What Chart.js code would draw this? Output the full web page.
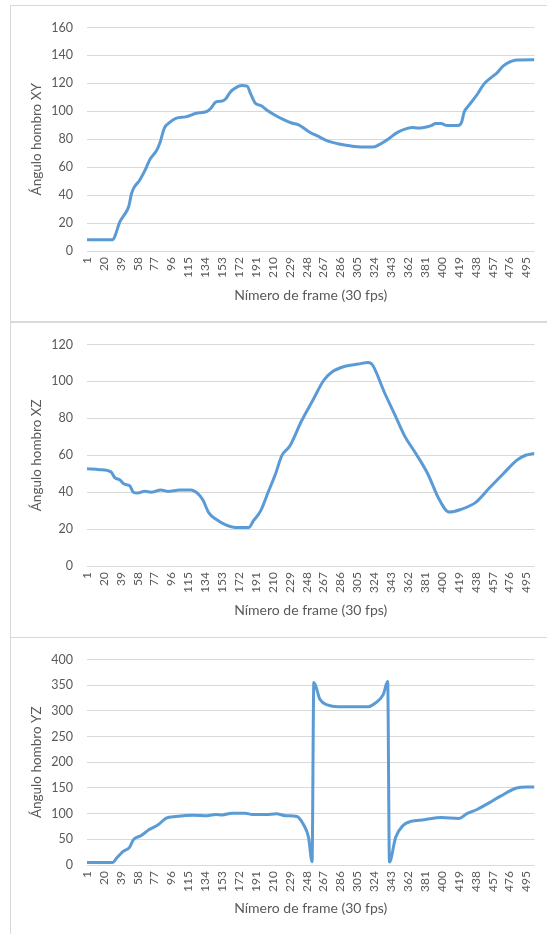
<!DOCTYPE html>
<html>
<head>
<meta charset="utf-8">
<script src="https://cdn.jsdelivr.net/npm/chart.js@4.4.1/dist/chart.umd.min.js"></script>
<style>
html,body{margin:0;padding:0;background:#fff;width:547px;height:934px;overflow:hidden}
.panel{position:absolute;left:10px;width:580px;border:1px solid #d9d9d9;background:#fff;box-sizing:border-box}
.panel canvas{position:absolute;left:0;top:0}
</style>
</head>
<body>
<div class="panel" style="top:5px;height:317px"><canvas id="c1" width="536" height="315" style="width:536px;height:315px"></canvas></div>
<div class="panel" style="top:322px;height:316px"><canvas id="c2" width="536" height="314" style="width:536px;height:314px"></canvas></div>
<div class="panel" style="top:637px;height:310px"><canvas id="c3" width="536" height="296" style="width:536px;height:296px"></canvas></div>
<script>
// Tick labels on the frame axis
const frameTicks = [1,20,39,58,77,96,115,134,153,172,191,210,229,248,267,286,305,324,343,362,381,400,419,438,457,476,495];
const lastFrame = 504;

// Ángulo hombro XY
const xyFrames = [1,30,32,38,42,48,51,54,60,66,72,79,83,88,94,101,112,123,136,140,146,153,157,162,168,175,181,185,190,197,203,213,222,231,239,250,261,272,283,298,309,322,330,339,350,362,367,373,388,393,399,406,418,422,425,430,440,447,455,462,469,477,484,504];
const xyValues = [8,8,10,21,25,32,41,45.6,50.5,57.5,65.8,71.7,77.5,88,92,95,96,98.4,100,102,106.7,107.4,109,113.7,116.8,118.4,118,112.5,106,104,101,97,94,91.6,90.3,85.6,82,78.6,76.8,75.1,74.4,74.4,76.3,79.8,84.9,88,88.5,88,89.8,91.2,91.2,89.8,89.8,92,99.5,104,112.4,119.3,124,127.5,132.6,135.6,136.8,137];

// Ángulo hombro XZ
const xzFrames = [1,15,28,32,38,43,49,53,58,66,73,84,92,105,118,125,131,138,146,157,168,183,188,196,205,213,220,229,242,255,267,276,291,306,317,322,335,347,358,371,384,397,408,421,438,453,469,484,494,504];
const xzValues = [52.7,52.2,51,48,46.6,44.3,43.5,40,39.5,40.5,40,41.2,40.4,41.2,41.2,39.5,36,28.8,25.3,22.3,20.9,20.9,24.4,29.7,40.4,50,59.8,65,78.4,89.9,100.5,105,108.2,109.4,110.3,108.9,94.4,82,70.5,60.7,50,36,29.2,30.6,34.5,42.1,50,57.2,60,61];

// Ángulo hombro YZ
const yzFrames = [1,30,34,41,49,53,62,71,81,90,101,120,136,146,153,164,179,187,202,214,224,237,244,250,254,256,263,272,283,317,324,334,339,341,348,356,365,380,399,419,428,440,453,466,484,495,504];
const yzValues = [5,5,12.7,25.5,35,49,57.4,68.9,78.4,91.2,94.4,97,96,98.3,97.5,100.8,100.8,98.3,98.3,99.6,96,94.4,79.7,54.2,6.4,355,322,311,308,308,314,331.6,357,6,54.2,76.5,84.8,88,92.4,90.5,100,108.5,121,134,149.8,152,152];

const FONT = "Lato, 'Open Sans', sans-serif";
const TXT = '#595959';
const GRID = '#d9d9d9';
const LINE = '#5B9BD5';

function makeChart(id, frames, values, yMax, yStep, yTitle, areaTop, axisHeight, titlePadBottom) {
  const pts = frames.map((f, i) => ({x: f, y: values[i]}));
  return new Chart(document.getElementById(id), {
    type: 'line',
    data: {datasets: [{data: pts, borderColor: LINE, borderWidth: 3, pointRadius: 0, cubicInterpolationMode: 'monotone', fill: false}]},
    options: {
      responsive: false,
      animation: false,
      devicePixelRatio: 1,
      layout: {padding: {left: 0, right: 9, top: areaTop, bottom: 0}},
      plugins: {legend: {display: false}, tooltip: {enabled: false}},
      scales: {
        x: {
          type: 'linear', min: 1, max: lastFrame,
          afterBuildTicks: s => { s.ticks = frameTicks.map(v => ({value: v})); },
          afterFit: s => { s.height = axisHeight; },
          grid: {display: false, drawTicks: false},
          border: {display: false},
          ticks: {autoSkip: false, minRotation: 90, maxRotation: 90, padding: 6, color: TXT, font: {family: FONT, size: 12},
                  callback: v => String(v)},
          title: {display: true, text: 'Nímero de frame (30 fps)', color: TXT, font: {family: FONT, size: 14}, padding: {top: 0, bottom: titlePadBottom}}
        },
        y: {
          min: 0, max: yMax,
          afterFit: s => { s.width = 76; },
          grid: {color: GRID, lineWidth: 1, drawTicks: false},
          border: {display: false},
          ticks: {stepSize: yStep, padding: 14, color: TXT, font: {family: FONT, size: 12.5}},
          title: {display: true, text: yTitle, color: TXT, font: {family: FONT, size: 13.5}, padding: {top: 18, bottom: 0}}
        }
      }
    }
  });
}

makeChart('c1', xyFrames, xyValues, 160, 20, 'Ángulo hombro XY', 15.7, 70, 17.5);
makeChart('c2', xzFrames, xzValues, 120, 20, 'Ángulo hombro XZ', 16, 71, 18);
makeChart('c3', yzFrames, yzValues, 400, 50, 'Ángulo hombro YZ', 17, 69, 17.5);
</script>
</body>
</html>
